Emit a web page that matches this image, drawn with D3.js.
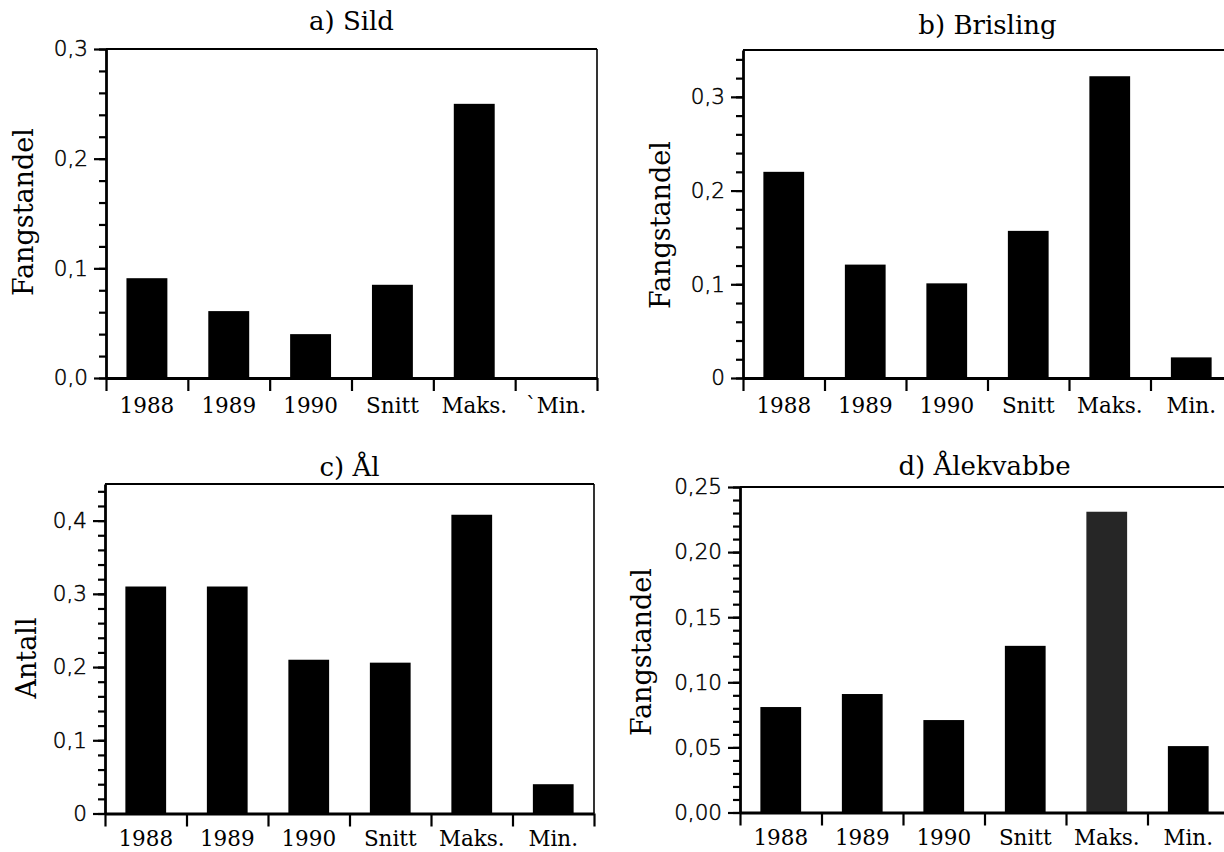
<!DOCTYPE html>
<html>
<head>
<meta charset="utf-8">
<script src="https://cdn.jsdelivr.net/npm/d3@7"></script>
<style>
  body { margin: 0; background: #fff; }
  svg { display: block; }
</style>
</head>
<body>
<svg id="fig" width="1224" height="852"></svg>
<script>
// Catch share per category, four species
const categories = ["1988", "1989", "1990", "Snitt", "Maks.", "Min."];
const categoriesSild = ["1988", "1989", "1990", "Snitt", "Maks.", "`Min."];

const sild       = [0.091, 0.061, 0.040, 0.085, 0.250, 0.000];
const brisling   = [0.220, 0.121, 0.101, 0.157, 0.322, 0.022];
const aal        = [0.310, 0.310, 0.210, 0.206, 0.408, 0.040];
const aalekvabbe = [0.081, 0.091, 0.071, 0.128, 0.231, 0.051];

// Major y ticks and their printed labels
const sildTicks = [0, 0.1, 0.2, 0.3];
const sildTickLabels = ["0,0", "0,1", "0,2", "0,3"];
const brislingTicks = [0, 0.1, 0.2, 0.3];
const brislingTickLabels = ["0", "0,1", "0,2", "0,3"];
const aalTicks = [0, 0.1, 0.2, 0.3, 0.4];
const aalTickLabels = ["0", "0,1", "0,2", "0,3", "0,4"];
const aalekvabbeTicks = [0, 0.05, 0.10, 0.15, 0.20, 0.25];
const aalekvabbeTickLabels = ["0,00", "0,05", "0,10", "0,15", "0,20", "0,25"];

const panels = [
  { title: "a) Sild", ylabel: "Fangstandel", cats: categoriesSild, values: sild,
    ticks: sildTicks, tickLabels: sildTickLabels, ymax: 0.3, minor: 0.02,
    left: 106, right: 597, top: 49, bottom: 378, labelPad: 20,
    titleY: 30, ylabelX: 33, ylabelY: 212, fills: [] },
  { title: "b) Brisling", ylabel: "Fangstandel", cats: categories, values: brisling,
    ticks: brislingTicks, tickLabels: brislingTickLabels, ymax: 0.35, minor: 0.02,
    left: 743, right: 1232, top: 50, bottom: 378, labelPad: 20,
    titleY: 34, ylabelX: 670, ylabelY: 225, fills: [] },
  { title: "c) Ål", ylabel: "Antall", cats: categories, values: aal,
    ticks: aalTicks, tickLabels: aalTickLabels, ymax: 0.45, minor: 0.02,
    left: 105, right: 594, top: 484, bottom: 813.5, labelPad: 17,
    titleY: 476, ylabelX: 36, ylabelY: 658, fills: [] },
  { title: "d) Ålekvabbe", ylabel: "Fangstandel", cats: categories, values: aalekvabbe,
    ticks: aalekvabbeTicks, tickLabels: aalekvabbeTickLabels, ymax: 0.25, minor: 0.01,
    left: 740, right: 1229, top: 487, bottom: 812.5, labelPad: 17,
    titleY: 475, ylabelX: 651, ylabelY: 652, fills: [null, null, null, null, "#262626", null] }
];

const svg = d3.select("#fig");
const serif = "'DejaVu Serif', serif";
const sans = "'DejaVu Sans', sans-serif";

panels.forEach(p => {
  const g = svg.append("g");
  const n = p.cats.length;

  const x = d3.scaleBand().domain(p.cats).range([p.left, p.right])
    .paddingInner(0.5).paddingOuter(0.25);
  const edge = d3.scaleLinear().domain([0, n]).range([p.left, p.right]);
  const y = d3.scaleLinear().domain([0, p.ymax]).range([p.bottom, p.top]);

  // bars
  g.selectAll("rect.bar").data(p.values).join("rect")
    .attr("class", "bar")
    .attr("x", (d, i) => x(p.cats[i]))
    .attr("width", x.bandwidth())
    .attr("y", d => y(d))
    .attr("height", d => y(0) - y(d))
    .attr("fill", (d, i) => p.fills[i] || "#000");

  // frame: top and right edges
  g.append("line").attr("x1", p.left).attr("x2", p.right)
    .attr("y1", p.top).attr("y2", p.top)
    .attr("stroke", "#000").attr("stroke-width", 2);
  g.append("line").attr("x1", p.right).attr("x2", p.right)
    .attr("y1", p.top).attr("y2", p.bottom)
    .attr("stroke", "#000").attr("stroke-width", 1.6);

  // minor y ticks
  const nMinor = Math.floor(p.ymax / p.minor + 1e-6);
  const minorVals = d3.range(nMinor + 1).map(i => i * p.minor);
  const minorAxis = d3.axisLeft(y).tickValues(minorVals).tickSize(7).tickFormat("").tickSizeOuter(0);
  const gm = g.append("g").attr("transform", `translate(${p.left},0)`).call(minorAxis);
  gm.select(".domain").remove();
  gm.selectAll(".tick line").attr("stroke-width", 2.2);

  // major y ticks + labels
  const yAxis = d3.axisLeft(y).tickValues(p.ticks).tickSize(12).tickSizeOuter(0)
    .tickPadding(6).tickFormat((d, i) => p.tickLabels[i]);
  const gy = g.append("g").attr("transform", `translate(${p.left},0)`).call(yAxis);
  gy.select(".domain").attr("stroke-width", 2.8);
  gy.selectAll(".tick line").attr("stroke-width", 2.2);
  gy.selectAll(".tick text")
    .attr("font-family", sans).attr("font-weight", 200)
    .attr("font-size", 21.5).attr("fill", "#000")
    .attr("stroke", "#000").attr("stroke-width", 0.5);

  // x axis line with boundary ticks
  const xEdges = d3.axisBottom(edge).tickValues(d3.range(n + 1)).tickSize(13)
    .tickSizeOuter(0).tickFormat("");
  const gx = g.append("g").attr("transform", `translate(0,${p.bottom})`).call(xEdges);
  gx.select(".domain").attr("stroke-width", 2.8);
  gx.selectAll(".tick line").attr("stroke-width", 2.2);

  // category labels
  const xAxis = d3.axisBottom(x).tickSize(0).tickPadding(p.labelPad);
  const gl = g.append("g").attr("transform", `translate(0,${p.bottom})`).call(xAxis);
  gl.select(".domain").remove();
  gl.selectAll(".tick text")
    .attr("font-family", serif).attr("font-size", 21.5).attr("fill", "#000");

  // title
  g.append("text").attr("x", (p.left + Math.min(p.right, 1232)) / 2).attr("y", p.titleY)
    .attr("text-anchor", "middle").attr("font-family", serif).attr("font-size", 26)
    .text(p.title);

  // y axis title
  g.append("text")
    .attr("transform", `translate(${p.ylabelX},${p.ylabelY}) rotate(-90)`)
    .attr("text-anchor", "middle").attr("font-family", serif).attr("font-size", 27)
    .text(p.ylabel);
});
</script>
</body>
</html>
